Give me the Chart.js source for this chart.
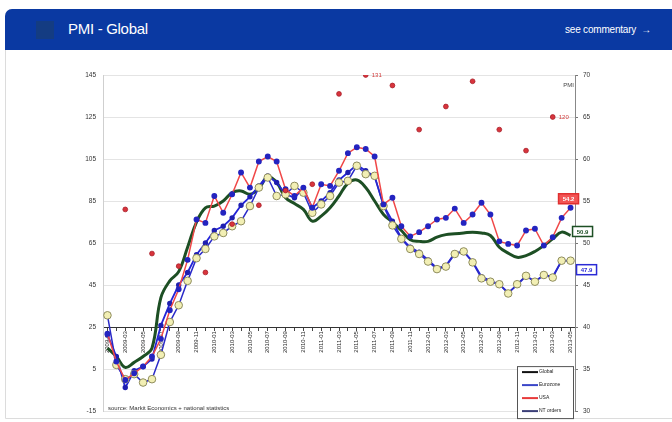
<!DOCTYPE html>
<html>
<head>
<meta charset="utf-8">
<script src="https://cdn.jsdelivr.net/npm/chart.js@4.4.1/dist/chart.umd.min.js"></script>
<style>
  html, body { margin: 0; padding: 0; background: #fff; }
  body { width: 672px; height: 422px; position: relative; overflow: hidden; font-family: "Liberation Sans", Arial, sans-serif; }
  #panel { position: absolute; left: 5px; top: 9px; width: 700px; height: 408px; border: 1px solid #dcdcdc; border-radius: 7px 0 0 0; }
  #head { position: absolute; left: 5px; top: 9px; width: 700px; height: 41px; background: #0a39a2; border-radius: 7px 0 0 0; }
  #icon { position: absolute; left: 36px; top: 21px; width: 18px; height: 18px; background: #143c82; }
  #title { position: absolute; left: 68px; top: 20px; color: #fff; font-size: 15px; letter-spacing: -0.3px; }
  #more { position: absolute; left: 565px; top: 24px; color: #fff; font-size: 10px; letter-spacing: -0.2px; }
  canvas { position: absolute; left: 0; top: 0; }
</style>
</head>
<body>
<div id="panel"></div>
<div id="head"></div>
<div id="icon"></div>
<div id="title">PMI - Global</div>
<div id="more">see commentary &nbsp;&#8594;</div>
<canvas id="pmi" width="672" height="422"></canvas>
<script>
// monthly categories, 2009-01 .. 2013-05
const categories = [];
for (let y = 2009; y <= 2013; y++) {
  for (let m = 1; m <= 12; m++) categories.push(y + '-' + String(m).padStart(2, '0'));
}
categories.length = 53;

// PMI readings (right axis)
const globalPmi = [37.5,36.5,35.2,35.8,36.5,37.5,43.5,45.5,46.6,49.5,52.5,54.2,54.4,55.0,56.0,56.2,55.8,56.5,57.9,57.2,
  55.4,54.7,54.0,52.6,53.2,54.2,55.6,57.1,57.5,56.6,55.0,53.4,52.5,51.5,50.4,50.2,50.2,50.7,51.0,51.1,
  51.2,51.3,51.2,50.9,49.5,48.8,48.3,48.5,49.0,49.7,50.5,51.3,50.9];
const eurozone = [39.1,36.5,32.8,34.8,35.3,36.2,40.2,42.8,45.0,46.5,48.6,50.0,51.5,52.0,53.0,54.5,55.5,56.8,58.0,57.2,
  55.8,55.4,56.5,54.2,55.0,56.0,57.5,58.4,59.3,58.6,57.9,54.5,52.6,50.6,49.5,48.9,48.0,47.0,47.3,48.8,
  49.0,47.8,46.0,45.5,45.1,44.1,45.0,46.1,45.4,46.2,46.0,47.9,47.9];
const usa = [39.2,35.9,33.7,34.5,35.3,36.5,38.6,42.0,44.5,48.0,52.8,52.4,55.6,53.6,55.8,58.4,56.6,59.7,60.3,59.7,
  56.4,55.6,56.6,54.2,57.0,56.8,58.6,60.7,61.4,61.2,60.3,54.6,55.4,52.0,50.8,51.3,52.0,52.8,53.0,54.1,
  52.4,53.4,54.8,53.4,50.2,49.9,49.7,51.5,51.7,49.7,50.7,53.0,54.2];
const ntOrders = [41.4,35.5,33.8,34.4,33.4,33.8,36.7,40.6,42.6,45.5,48.2,49.3,50.8,51.2,52.0,52.6,54.4,56.6,57.8,55.6,
  55.8,56.8,56.0,53.6,54.6,55.6,57.2,57.4,59.2,58.2,58.0,54.4,52.1,50.5,49.3,48.7,47.8,46.9,47.2,48.7,
  49.0,47.7,45.8,45.4,45.1,44.0,45.1,46.1,45.4,46.2,45.9,47.9,47.9];

// quarterly index (left axis)
const quarterMonths = ['2009-03','2009-06','2009-09','2009-12','2010-03','2010-06','2010-09','2010-12','2011-03',
  '2011-06','2011-09','2011-12','2012-03','2012-06','2012-09','2012-12','2013-03'];
const quarterIndex = [81,60,54,51,74,83,90,93,136,145,140,119,130,142,119,109,125];
const quarterNotes = { '2011-06': '131', '2013-03': '120' };

const leftTicks = { min: -15, max: 145, step: 20 };
const rightTicks = { min: 30, max: 70, step: 5 };

const extras = {
  id: 'extras',
  afterDraw(chart) {
    const ctx = chart.ctx, area = chart.chartArea;
    const xs = chart.scales.x, yr = chart.scales.yR, yl = chart.scales.y;
    ctx.save();

    // notes on the quarterly points
    ctx.font = '6px "Liberation Sans", Arial';
    ctx.fillStyle = '#d23a3a';
    ctx.textBaseline = 'middle';
    quarterMonths.forEach((m, i) => {
      if (!quarterNotes[m]) return;
      ctx.fillText(quarterNotes[m], xs.getPixelForValue(categories.indexOf(m)) + 6, yl.getPixelForValue(quarterIndex[i]));
    });

    // PMI unit
    ctx.fillStyle = '#444';
    ctx.textAlign = 'right';
    ctx.fillText('PMI', area.right - 1, area.top + 10);

    // last value tags
    const last = categories.length - 1;
    const tags = [
      { v: usa[last], dx: -2, dy: -9, fill: '#f25454', stroke: '#e03030', text: '#fff' },
      { v: globalPmi[last], dx: 12, dy: -4, fill: '#fff', stroke: '#1d4f24', text: '#1d4f24' },
      { v: eurozone[last], dx: 16, dy: 9, fill: '#fff', stroke: '#2a2ad6', text: '#2a2ad6' }
    ];
    ctx.textAlign = 'center';
    ctx.font = 'bold 6px "Liberation Sans", Arial';
    tags.forEach(t => {
      const cx = xs.getPixelForValue(last) + t.dx, cy = yr.getPixelForValue(t.v) + t.dy;
      ctx.fillStyle = t.fill;
      ctx.fillRect(cx - 10, cy - 5, 20, 10);
      ctx.lineWidth = 1.5;
      ctx.strokeStyle = t.stroke;
      ctx.strokeRect(cx - 10, cy - 5, 20, 10);
      ctx.fillStyle = t.text;
      ctx.fillText(t.v.toFixed(1), cx, cy + 0.5);
    });

    // source
    ctx.textAlign = 'left';
    ctx.font = '6px "Liberation Sans", Arial';
    ctx.fillStyle = '#333';
    ctx.fillText('source: Markit Economics + national statistics', area.left + 5, area.bottom - 3);

    // legend box
    const items = chart.data.datasets.filter(d => d.inLegend);
    const bx = area.right - 58, by = area.bottom - 45, bw = 56, bh = 52;
    ctx.fillStyle = '#fff';
    ctx.fillRect(bx, by, bw, bh);
    ctx.strokeStyle = '#555';
    ctx.lineWidth = 1;
    ctx.strokeRect(bx + 0.5, by + 0.5, bw, bh);
    ctx.font = '5px "Liberation Sans", Arial';
    items.forEach((d, i) => {
      const ly = by + 6 + i * 13;
      ctx.strokeStyle = d.legendColor;
      ctx.lineWidth = 2;
      ctx.beginPath();
      ctx.moveTo(bx + 5, ly);
      ctx.lineTo(bx + 21, ly);
      ctx.stroke();
      ctx.fillStyle = '#222';
      ctx.fillText(d.label, bx + 22, ly);
    });
    ctx.restore();
  }
};

new Chart(document.getElementById('pmi'), {
  type: 'line',
  data: {
    labels: categories,
    datasets: [
      {
        label: 'Index', data: quarterMonths.map((m, i) => ({ x: m, y: quarterIndex[i] })),
        yAxisID: 'y', showLine: false, pointRadius: 2.4, pointBackgroundColor: '#d8343c',
        pointBorderColor: '#a81e28', pointBorderWidth: 0.8, order: 0
      },
      {
        label: 'Global', data: globalPmi, yAxisID: 'yR', borderColor: '#1d4f24', borderWidth: 3,
        pointRadius: 0, tension: 0.4, order: 4, inLegend: true, legendColor: '#111'
      },
      {
        label: 'Eurozone', data: eurozone, yAxisID: 'yR', borderColor: '#2424d8', borderWidth: 1.8,
        pointRadius: 1.8, pointBackgroundColor: '#1f1fb0', pointBorderColor: '#1f1fb0', order: 3,
        inLegend: true, legendColor: '#3a46c8'
      },
      {
        label: 'USA', data: usa, yAxisID: 'yR', borderColor: '#f04848', borderWidth: 1.5,
        pointRadius: 2.2, pointBackgroundColor: '#2424c0', pointBorderColor: '#2424c0', order: 1,
        inLegend: true, legendColor: '#e83a3a'
      },
      {
        label: 'NT orders', data: ntOrders, yAxisID: 'yR', borderColor: '#2a2ac8', borderWidth: 1.5,
        pointRadius: 3.8, pointBackgroundColor: '#f2efb4', pointBorderColor: '#8e8c5c', pointBorderWidth: 1,
        order: 2, inLegend: true, legendColor: '#3b3f78'
      }
    ]
  },
  options: {
    responsive: false,
    animation: false,
    layout: { padding: { top: 75, bottom: 9, left: 0, right: 0 } },
    plugins: { legend: { display: false }, tooltip: { enabled: false } },
    scales: {
      x: {
        type: 'category',
        offset: true,
        position: { yR: 40 },
        grid: { drawOnChartArea: false, drawTicks: true, tickLength: 3, color: '#444' },
        border: { display: true, color: '#333', dash: [2, 2] },
        ticks: {
          autoSkip: false, maxRotation: 90, minRotation: 90, padding: 1,
          color: '#2a2a2a', font: { size: 6, family: '"Liberation Sans", Arial' },
          callback: (v, i) => (i % 2 === 0 ? categories[i] : '')
        }
      },
      y: {
        position: 'left',
        min: leftTicks.min, max: leftTicks.max,
        afterFit: s => { s.width = 103; },
        grid: { color: '#e4e4e4', drawTicks: false },
        border: { color: '#cfcfcf' },
        ticks: { stepSize: leftTicks.step, padding: 7, color: '#333', font: { size: 6.5, family: '"Liberation Sans", Arial' } }
      },
      yR: {
        position: 'right',
        min: rightTicks.min, max: rightTicks.max,
        afterFit: s => { s.width = 97; },
        grid: { drawOnChartArea: false, tickLength: 3, color: '#777' },
        border: { color: '#888' },
        ticks: { stepSize: rightTicks.step, padding: 5, color: '#333', font: { size: 6.5, family: '"Liberation Sans", Arial' } }
      }
    }
  },
  plugins: [extras]
});
</script>
</body>
</html>
